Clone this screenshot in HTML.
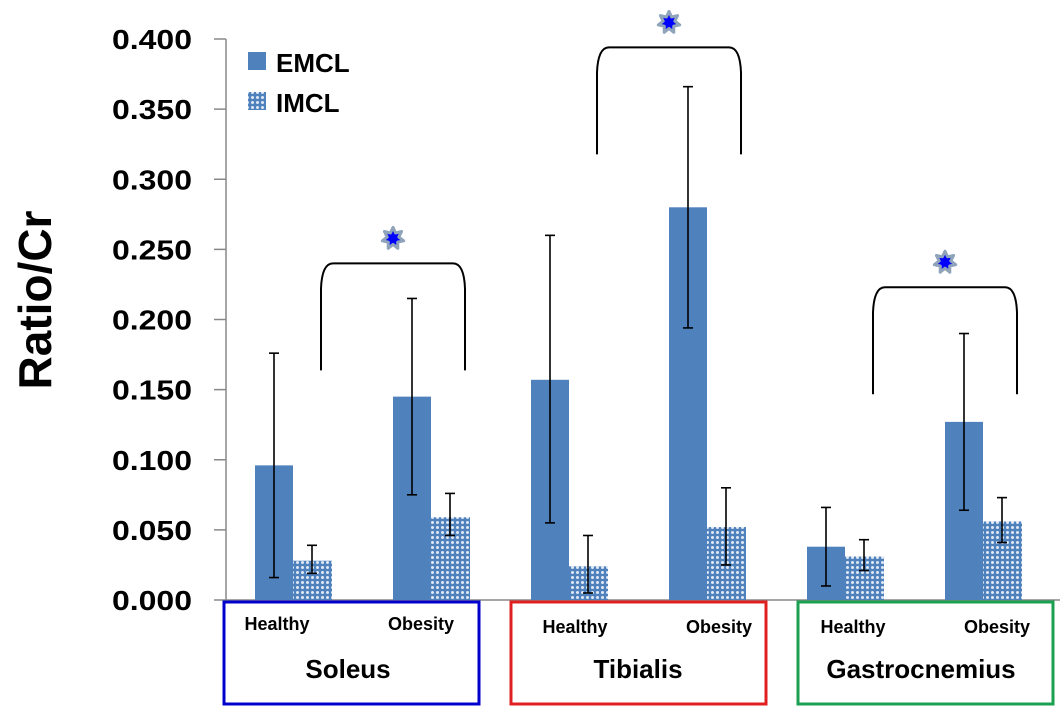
<!DOCTYPE html>
<html><head><meta charset="utf-8"><style>
html,body{margin:0;padding:0;background:#fff;}
svg{display:block;font-family:"Liberation Sans",sans-serif;}
</style></head><body>
<svg id="chart" width="1064" height="723" viewBox="0 0 1064 723">
<defs>
<pattern id="hatch" width="5" height="5" patternUnits="userSpaceOnUse">
<rect width="5" height="5" fill="#4f81bd"/>
<circle cx="2.5" cy="2.5" r="1.5" fill="#dfe8f4"/>
</pattern>
</defs>
<g id="axes"></g>
<g id="bars"></g>
<g id="extras"></g>
<g>
<rect x="248" y="52" width="18" height="18" fill="#4f81bd"/>
<text x="276" y="72" font-size="26" font-weight="bold">EMCL</text>
<rect x="248" y="92" width="18" height="18" fill="url(#hatch)"/>
<text x="276" y="112" font-size="26" font-weight="bold">IMCL</text>
</g>
</svg>
<script>
const groups = ["Soleus","Tibialis","Gastrocnemius"];
const conditions = ["Healthy","Obesity"];
const emcl = [0.096,0.145,0.157,0.280,0.038,0.127];
const emclLo = [0.016,0.075,0.055,0.194,0.010,0.064];
const emclHi = [0.176,0.215,0.260,0.366,0.066,0.190];
const imcl = [0.028,0.059,0.024,0.052,0.031,0.056];
const imclLo = [0.019,0.046,0.005,0.025,0.021,0.041];
const imclHi = [0.039,0.076,0.046,0.080,0.043,0.073];
const ticks = [0,0.05,0.1,0.15,0.2,0.25,0.3,0.35,0.4];
const tickLabels = ["0.000","0.050","0.100","0.150","0.200","0.250","0.300","0.350","0.400"];
const sigTop = [0.240,0.394,0.223];

const NS="http://www.w3.org/2000/svg";
const y0=600, y1=39, vmax=0.4;
const y=v=>y0-(v/vmax)*(y0-y1);
const slotX=i=>255+i*138;
const BW=38;
const condOff=[[53,197],[64,208],[55,199]];
const condY=[630,633,633];
const grpOff=[124,127,123];
function mk(tag,attrs,parent){const e=document.createElementNS(NS,tag);for(const k in attrs)e.setAttribute(k,attrs[k]);parent.appendChild(e);return e;}
const axes=document.getElementById('axes'),bars=document.getElementById('bars'),ex=document.getElementById('extras');

let ax=mk('line',{x1:226,y1:y(0.4),x2:226,y2:y0,stroke:'#888','stroke-width':1.5},axes);


let xa=mk('line',{x1:226,y1:y0,x2:1060,y2:y0,stroke:'#888','stroke-width':1.5},axes);


ticks.forEach((t,i)=>{
 let l=mk('line',{x1:214,y1:y(t),x2:226,y2:y(t),stroke:'#888','stroke-width':1.5},axes);
 
 
 let tx=mk('text',{x:192,y:y(t)+10,'text-anchor':'end','font-size':28,'font-weight':'bold',fill:'#000',textLength:80,lengthAdjust:'spacingAndGlyphs'},axes);
 tx.textContent=tickLabels[i];
 
 
});
let yt=mk('text',{x:0,y:0,transform:'translate(51,300) rotate(-90)','text-anchor':'middle','font-size':46,'font-weight':'bold',fill:'#000'},axes);
yt.textContent='Ratio/Cr';



function errbar(x,lo,hi){
 const g=mk('g',{stroke:'#000','stroke-width':1.6},bars);
 
 
 mk('line',{x1:x,y1:y(lo),x2:x,y2:y(hi)},g);
 mk('line',{x1:x-5,y1:y(lo),x2:x+5,y2:y(lo)},g);
 mk('line',{x1:x-5,y1:y(hi),x2:x+5,y2:y(hi)},g);
}
emcl.forEach((v,i)=>{
 const x=slotX(i);
 let r=mk('rect',{x:x,y:y(v),width:BW,height:y0-y(v),fill:'#4f81bd'},bars);
 
 
 let r2=mk('rect',{x:x+BW,y:y(imcl[i]),width:BW+1,height:y0-y(imcl[i]),fill:'url(#hatch)'},bars);
 
 
 errbar(x+BW/2,emclLo[i],emclHi[i]);
 errbar(x+BW*1.5,imclLo[i],imclHi[i]);
});

function star(cx,cy){
 let pts=[];for(let k=0;k<14;k++){const a=-Math.PI/2+k*Math.PI/7;const r=k%2?6:11;pts.push((cx+r*Math.cos(a)).toFixed(1)+','+(cy+r*Math.sin(a)).toFixed(1));}
 let p=mk('polygon',{points:pts.join(' '),fill:'#0000ff',stroke:'#8fa3bb','stroke-width':3,'stroke-linejoin':'round'},ex);
 
 
}
const boxColors=['#0000cc','#e02020','#1aa050'];
groups.forEach((gname,gi)=>{
 const xl=slotX(gi*2)+66, xr=slotX(gi*2+1)+72;
 const top=y(sigTop[gi]), bot=top+107;
 let b=mk('path',{d:`M${xl},${bot} L${xl},${top+25} Q${xl+1},${top} ${xl+12},${top} L${xr-12},${top} Q${xr-1},${top} ${xr},${top+25} L${xr},${bot}`,fill:'none',stroke:'#000','stroke-width':2},ex);
 
 
 star((xl+xr)/2,top-25);
 const bx=224+gi*287;
 let box=mk('rect',{x:bx,y:602,width:255,height:102,fill:'none',stroke:boxColors[gi],'stroke-width':3},ex);
 
 
 conditions.forEach((c,ci)=>{
  let t=mk('text',{x:bx+condOff[gi][ci],y:condY[gi],'text-anchor':'middle','font-size':18,'font-weight':'bold',fill:'#000'},ex);
  t.textContent=c;
  
  
 });
 let gt=mk('text',{x:bx+grpOff[gi],y:678,'text-anchor':'middle','font-size':26,'font-weight':'bold',fill:'#000'},ex);
 gt.textContent=gname;
 
 
});
</script>
</body></html>
